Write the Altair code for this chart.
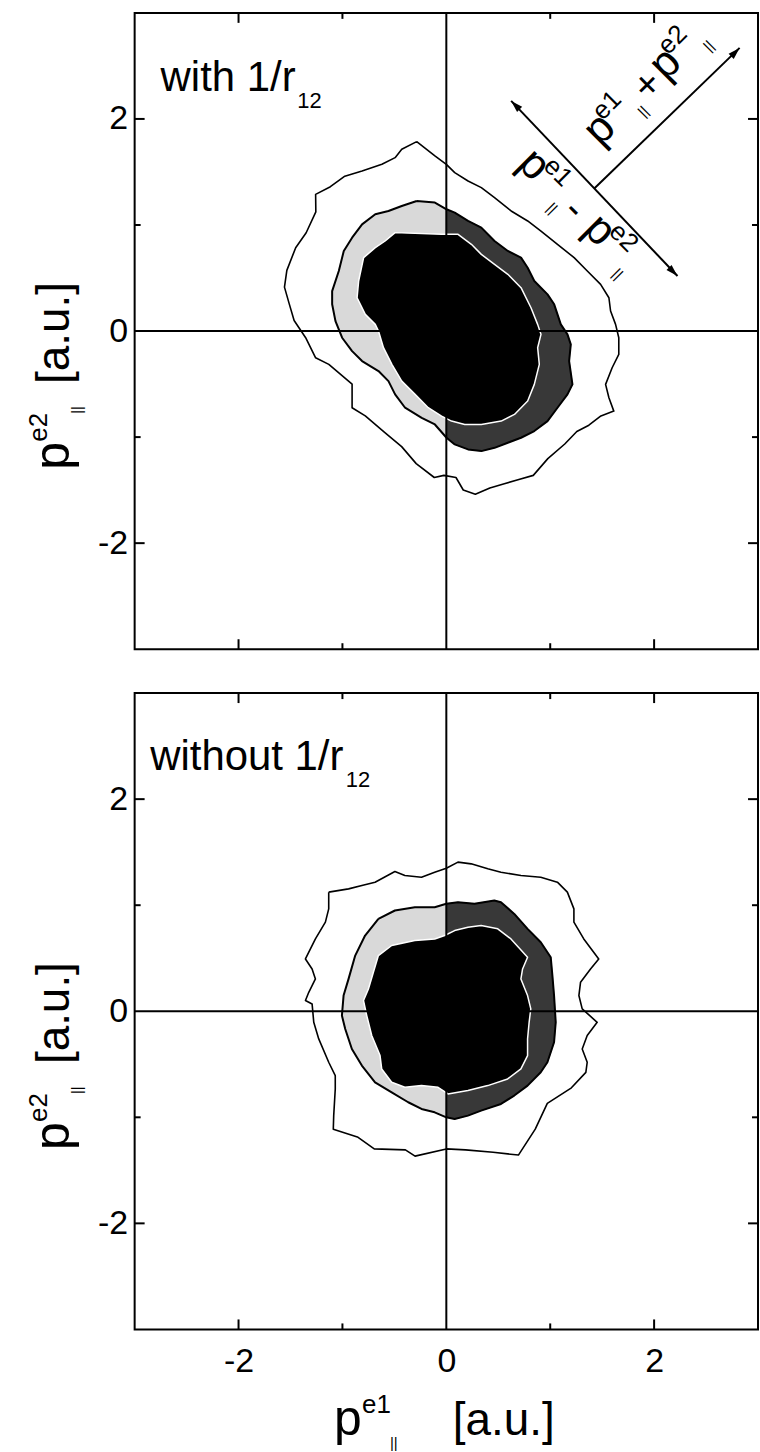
import altair as alt
import pandas as pd

FONT = "Liberation Sans"
W, H = 625, 638            # plot area of each panel in pixels
LEFT, TOP_PAD, BOTTOM_PAD = 134, 10, 124
LIGHT = "#d9d9d9"          # lightly stippled half of the middle band
DARK = "#383838"           # densely stippled half of the middle band

AXIS_RANGE = [-3, 3]
LABEL_TICKS = [-2, 0, 2]
MAJOR_TICKS = [-2, 2]
MINOR_TICKS = [-1, 1]

# ---------------- upper panel: with 1/r12 ----------------
TOP_OUTER_X = [-0.285, -0.110, 0.000, 0.081, 0.209, 0.337, 0.464, 0.624, 0.783, 0.911,
               1.070, 1.230, 1.357, 1.485, 1.565, 1.581, 1.629, 1.660, 1.660, 1.596,
               1.533, 1.565, 1.612, 1.488, 1.372, 1.256, 1.140, 0.977, 0.837, 0.698,
               0.558, 0.419, 0.279, 0.163, 0.093, -0.023, -0.116, -0.290, -0.430, -0.600,
               -0.780, -0.907, -0.907, -1.131, -1.258, -1.354, -1.465, -1.512, -1.558, -1.535,
               -1.450, -1.349, -1.256, -1.258, -1.116, -0.977, -0.811, -0.620, -0.493, -0.429]
TOP_OUTER_Y = [1.786, 1.651, 1.572, 1.494, 1.415, 1.352, 1.258, 1.132, 1.038, 0.943,
               0.818, 0.692, 0.566, 0.440, 0.314, 0.189, 0.063, -0.063, -0.220, -0.346,
               -0.503, -0.629, -0.755, -0.800, -0.888, -0.947, -1.065, -1.203, -1.361, -1.400,
               -1.440, -1.479, -1.538, -1.499, -1.381, -1.361, -1.381, -1.250, -1.090, -0.950,
               -0.800, -0.723, -0.500, -0.314, -0.252, -0.063, 0.099, 0.256, 0.414, 0.572,
               0.786, 0.927, 1.124, 1.289, 1.361, 1.460, 1.509, 1.572, 1.635, 1.714]

TOP_MID_X = [-0.285, -0.110, 0.002, 0.081, 0.209, 0.337, 0.464, 0.592, 0.719, 0.783,
             0.847, 0.974, 1.038, 1.102, 1.166, 1.198, 1.182, 1.214, 1.166, 1.070,
             0.974, 0.847, 0.719, 0.592, 0.464, 0.337, 0.209, 0.081, 0.002, -0.110,
             -0.237, -0.397, -0.493, -0.557, -0.653, -0.811, -0.907, -1.003, -1.067, -1.099,
             -1.099, -1.035, -0.987, -0.907, -0.811, -0.684, -0.557, -0.429]
TOP_MID_Y = [1.226, 1.211, 1.148, 1.116, 1.038, 0.975, 0.849, 0.755, 0.692, 0.597,
             0.472, 0.346, 0.252, 0.063, -0.031, -0.126, -0.283, -0.503, -0.597, -0.723,
             -0.849, -0.943, -1.006, -1.053, -1.101, -1.132, -1.116, -1.069, -1.006, -0.881,
             -0.818, -0.723, -0.597, -0.472, -0.377, -0.283, -0.189, -0.063, 0.094, 0.252,
             0.377, 0.566, 0.755, 0.880, 1.006, 1.101, 1.132, 1.179]

TOP_CORE_X = [-0.493, -0.046, 0.113, 0.241, 0.337, 0.464, 0.592, 0.719, 0.815, 0.879,
              0.911, 0.879, 0.895, 0.847, 0.783, 0.656, 0.528, 0.337, 0.177, 0.050,
              -0.046, -0.174, -0.301, -0.429, -0.524, -0.605, -0.653, -0.684, -0.780, -0.859,
              -0.844, -0.796, -0.684, -0.589]
TOP_CORE_Y = [0.928, 0.912, 0.912, 0.818, 0.723, 0.629, 0.535, 0.409, 0.220, 0.063,
              -0.031, -0.157, -0.314, -0.503, -0.660, -0.786, -0.849, -0.881, -0.881, -0.849,
              -0.802, -0.723, -0.597, -0.472, -0.314, -0.157, 0.000, 0.063, 0.157, 0.314,
              0.472, 0.692, 0.786, 0.849]

# ---------------- lower panel: without 1/r12 ----------------
BOT_OUTER_X = [-1.132, -0.941, -0.813, -0.686, -0.495, -0.399, -0.239, -0.112, 0.000, 0.112,
               0.239, 0.399, 0.526, 0.718, 0.909, 1.069, 1.165, 1.228, 1.228, 1.323,
               1.467, 1.388, 1.292, 1.276, 1.308, 1.452, 1.356, 1.308, 1.356, 1.343,
               1.204, 0.972, 0.856, 0.694, 0.450, 0.185, 0.000, -0.301, -0.394, -0.694,
               -0.856, -1.088, -1.084, -1.069, -1.069, -1.132, -1.228, -1.276, -1.292, -1.356,
               -1.324, -1.260, -1.292, -1.356, -1.260, -1.164, -1.132]
BOT_OUTER_Y = [1.123, 1.154, 1.186, 1.217, 1.318, 1.280, 1.264, 1.311, 1.349, 1.406,
               1.390, 1.343, 1.311, 1.280, 1.264, 1.217, 1.123, 0.965, 0.840, 0.682,
               0.493, 0.399, 0.274, 0.148, 0.022, -0.104, -0.229, -0.356, -0.481, -0.576,
               -0.722, -0.868, -1.112, -1.356, -1.330, -1.307, -1.298, -1.366, -1.307, -1.298,
               -1.185, -1.112, -0.984, -0.733, -0.607, -0.481, -0.261, -0.104, 0.069, 0.101,
               0.179, 0.305, 0.399, 0.493, 0.682, 0.840, 0.965]

BOT_MID_X = [-0.654, -0.495, -0.303, -0.112, 0.000, 0.112, 0.271, 0.462, 0.526, 0.654,
             0.782, 0.909, 1.005, 1.021, 1.037, 1.053, 1.037, 0.973, 0.909, 0.782,
             0.654, 0.526, 0.335, 0.208, 0.080, 0.000, -0.112, -0.239, -0.367, -0.526,
             -0.686, -0.813, -0.909, -0.973, -1.005, -0.989, -0.941, -0.877, -0.782]
BOT_MID_Y = [0.871, 0.950, 0.981, 0.981, 1.013, 1.028, 1.013, 1.044, 1.028, 0.918,
             0.777, 0.651, 0.509, 0.337, 0.148, -0.104, -0.292, -0.481, -0.575, -0.701,
             -0.795, -0.874, -0.937, -0.984, -1.016, -1.000, -0.953, -0.921, -0.858, -0.764,
             -0.670, -0.512, -0.356, -0.167, -0.041, 0.148, 0.305, 0.525, 0.714]

BOT_CORE_X = [-0.654, -0.526, -0.303, -0.112, -0.016, 0.080, 0.208, 0.335, 0.495, 0.622,
              0.782, 0.734, 0.718, 0.782, 0.813, 0.797, 0.782, 0.782, 0.718, 0.590,
              0.399, 0.208, 0.016, -0.080, -0.239, -0.399, -0.526, -0.622, -0.638, -0.718,
              -0.766, -0.797, -0.750, -0.702]
BOT_CORE_Y = [0.525, 0.620, 0.667, 0.682, 0.714, 0.761, 0.792, 0.808, 0.777, 0.682,
              0.509, 0.399, 0.305, 0.148, 0.022, -0.104, -0.261, -0.418, -0.544, -0.638,
              -0.701, -0.748, -0.780, -0.717, -0.701, -0.717, -0.670, -0.544, -0.418, -0.229,
              -0.041, 0.101, 0.210, 0.368]

# ---------------- arrows in the upper panel ----------------
SHAFT_X1 = [0.624, 1.424]
SHAFT_Y1 = [2.170, 1.344]
SHAFT_X2 = [2.225, 2.823]
SHAFT_Y2 = [0.519, 2.670]
HEAD_X = [0.624, 2.225, 2.823]
HEAD_Y = [2.170, 0.519, 2.670]
HEAD_DIR = [315, 135, 45]

XS = alt.Scale(domain=AXIS_RANGE, nice=False, zero=False)
YS = alt.Scale(domain=AXIS_RANGE, nice=False, zero=False)
LABEL_EXPR = "replace(datum.label, '\u2212', '-')"

Y_AXIS = alt.Axis(values=LABEL_TICKS, ticks=False, tickSize=0, domain=False, grid=False,
                  labelFont=FONT, labelFontSize=34, labelColor="black", labelPadding=7,
                  labelExpr=LABEL_EXPR, title=None)
X_AXIS_BOTTOM = alt.Axis(values=LABEL_TICKS, ticks=False, tickSize=0, domain=False, grid=False,
                         labelFont=FONT, labelFontSize=34, labelColor="black", labelPadding=15,
                         labelExpr=LABEL_EXPR, title=None)


def ring(xs, ys):
    n = len(xs)
    return pd.DataFrame({"x": list(xs) + [xs[0]], "y": list(ys) + [ys[0]], "i": list(range(n + 1))})


def clip_right(xs, ys):
    """Sutherland-Hodgman clip of a closed polygon to the half plane x >= 0."""
    out = []
    n = len(xs)
    for k in range(n):
        x1, y1 = xs[k - 1], ys[k - 1]
        x2, y2 = xs[k], ys[k]
        if x2 >= 0:
            if x1 < 0:
                t = x1 / (x1 - x2)
                out.append((0.0, y1 + t * (y2 - y1)))
            out.append((x2, y2))
        elif x1 >= 0:
            t = x1 / (x1 - x2)
            out.append((0.0, y1 + t * (y2 - y1)))
    return [p[0] for p in out], [p[1] for p in out]


def spacer(y):
    # invisible horizontal rule that fixes the outer extent of the figure
    return alt.Chart(pd.DataFrame({"k": [0]})).mark_rule(stroke="white", strokeOpacity=0, strokeWidth=1).encode(
        x=alt.value(-LEFT), x2=alt.value(W - 1), y=alt.value(y), y2=alt.value(y))


def build_panel(outer, mid, core, x_axis, extra):
    def xy(ch, **more):
        return ch.encode(x=alt.X("x:Q", scale=XS, axis=x_axis),
                         y=alt.Y("y:Q", scale=YS, axis=Y_AXIS), **more)

    def shape(df, **mark):
        return xy(alt.Chart(df).mark_line(strokeJoin="round", **mark), order=alt.Order("i:Q"))

    layers = [
        shape(ring(*mid), fill=LIGHT, stroke=LIGHT, strokeWidth=0.5),
        shape(ring(*clip_right(*mid)), fill=DARK, stroke=DARK, strokeWidth=0.5),
        shape(ring(*core), fill="black", stroke="white", strokeWidth=1.5),
        shape(ring(*mid), stroke="black", strokeWidth=2),
        shape(ring(*outer), stroke="black", strokeWidth=1.6),
    ]
    zero = pd.DataFrame({"v": [0]})
    layers.append(alt.Chart(zero).mark_rule(stroke="black", strokeWidth=2)
                  .encode(x=alt.X("v:Q", scale=XS, axis=x_axis)))
    layers.append(alt.Chart(zero).mark_rule(stroke="black", strokeWidth=2)
                  .encode(y=alt.Y("v:Q", scale=YS, axis=Y_AXIS)))
    # inward ticks on all four sides of the frame
    for vals, ln in ((MAJOR_TICKS, 10), (MINOR_TICKS, 6)):
        d = pd.DataFrame({"v": vals})
        r = alt.Chart(d).mark_rule(stroke="black", strokeWidth=2)
        layers += [
            r.encode(x=alt.X("v:Q", scale=XS, axis=x_axis), y=alt.value(H), y2=alt.value(H - ln)),
            r.encode(x=alt.X("v:Q", scale=XS, axis=x_axis), y=alt.value(0), y2=alt.value(ln)),
            r.encode(y=alt.Y("v:Q", scale=YS, axis=Y_AXIS), x=alt.value(0), x2=alt.value(ln)),
            r.encode(y=alt.Y("v:Q", scale=YS, axis=Y_AXIS), x=alt.value(W), x2=alt.value(W - ln)),
        ]
    layers += extra(x_axis)
    return alt.layer(*layers).properties(width=W, height=H)


def text_at_data(x, y, angle, frags, x_axis):
    df = pd.DataFrame({"x": [x], "y": [y]})
    out = []
    for t, size, dx, dy in frags:
        out.append(alt.Chart(df).mark_text(text=t, font=FONT, fontSize=size, angle=angle, dx=dx, dy=dy,
                                           align="left", baseline="alphabetic", color="black")
                   .encode(x=alt.X("x:Q", scale=XS, axis=x_axis), y=alt.Y("y:Q", scale=YS, axis=Y_AXIS)))
    return out


def text_at_px(px, py, angle, frags):
    df = pd.DataFrame({"k": [0]})
    out = []
    for t, size, dx, dy in frags:
        out.append(alt.Chart(df).mark_text(text=t, font=FONT, fontSize=size, angle=angle, dx=dx, dy=dy,
                                           align="left", baseline="alphabetic", color="black")
                   .encode(x=alt.value(px), y=alt.value(py)))
    return out


def momentum_label(op):
    return [("p", 44, 0, 0), ("e1", 26, 20, -17), ("||", 15, 52, 10), (op, 40, 66, 2),
            ("p", 44, 93, 0), ("e2", 26, 113, -17), ("||", 15, 145, 10)]


Y_TITLE = [("p", 50, 0, 0), ("e2", 26, 28, -22), ("||", 15, 56, 13), ("[a.u.]", 46, 86, 0)]
X_TITLE = [("p", 50, 0, 0), ("e1", 26, 28, -22), ("||", 15, 56, 13), ("[a.u.]", 46, 119, 0)]


def top_extra(x_axis):
    lay = [spacer(-TOP_PAD + 0.5)]
    lay += text_at_data(-2.75, 2.266, 0, [("with 1/r", 42, 0, 0), ("12", 22, 137, 17)], x_axis)
    shafts = pd.DataFrame({"x1": SHAFT_X1, "y1": SHAFT_Y1, "x2": SHAFT_X2, "y2": SHAFT_Y2})
    lay.append(alt.Chart(shafts).mark_rule(stroke="black", strokeWidth=2).encode(
        x=alt.X("x1:Q", scale=XS, axis=x_axis), y=alt.Y("y1:Q", scale=YS, axis=Y_AXIS),
        x2="x2:Q", y2="y2:Q"))
    heads = pd.DataFrame({"x": HEAD_X, "y": HEAD_Y, "a": HEAD_DIR})
    lay.append(alt.Chart(heads).mark_point(shape="M0,0L0.6,2L-0.6,2Z", filled=True, color="black",
                                           opacity=1, size=144).encode(
        x=alt.X("x:Q", scale=XS, axis=x_axis), y=alt.Y("y:Q", scale=YS, axis=Y_AXIS),
        angle=alt.Angle("a:Q", scale=None)))
    lay += text_at_data(0.671, 1.562, 45, momentum_label("-"), x_axis)
    lay += text_at_data(1.482, 1.732, 315, momentum_label("+"), x_axis)
    lay += text_at_px(-66, 458, 270, Y_TITLE)
    return lay


def bottom_extra(x_axis):
    lay = [spacer(H + BOTTOM_PAD - 0.5)]
    lay += text_at_data(-2.85, 2.276, 0, [("without 1/r", 42, 0, 0), ("12", 22, 196, 17)], x_axis)
    lay += text_at_px(-66, 458, 270, Y_TITLE)
    lay += text_at_px(200, 744, 0, X_TITLE)
    return lay


top = build_panel((TOP_OUTER_X, TOP_OUTER_Y), (TOP_MID_X, TOP_MID_Y), (TOP_CORE_X, TOP_CORE_Y),
                  None, top_extra)
bottom = build_panel((BOT_OUTER_X, BOT_OUTER_Y), (BOT_MID_X, BOT_MID_Y), (BOT_CORE_X, BOT_CORE_Y),
                     X_AXIS_BOTTOM, bottom_extra)

chart = alt.vconcat(top, bottom, spacing=40).properties(
    padding=0,
    background="white",
).configure_view(stroke="black", strokeWidth=2)

chart.save("out.html", embed_options={"renderer": "svg", "actions": False})
